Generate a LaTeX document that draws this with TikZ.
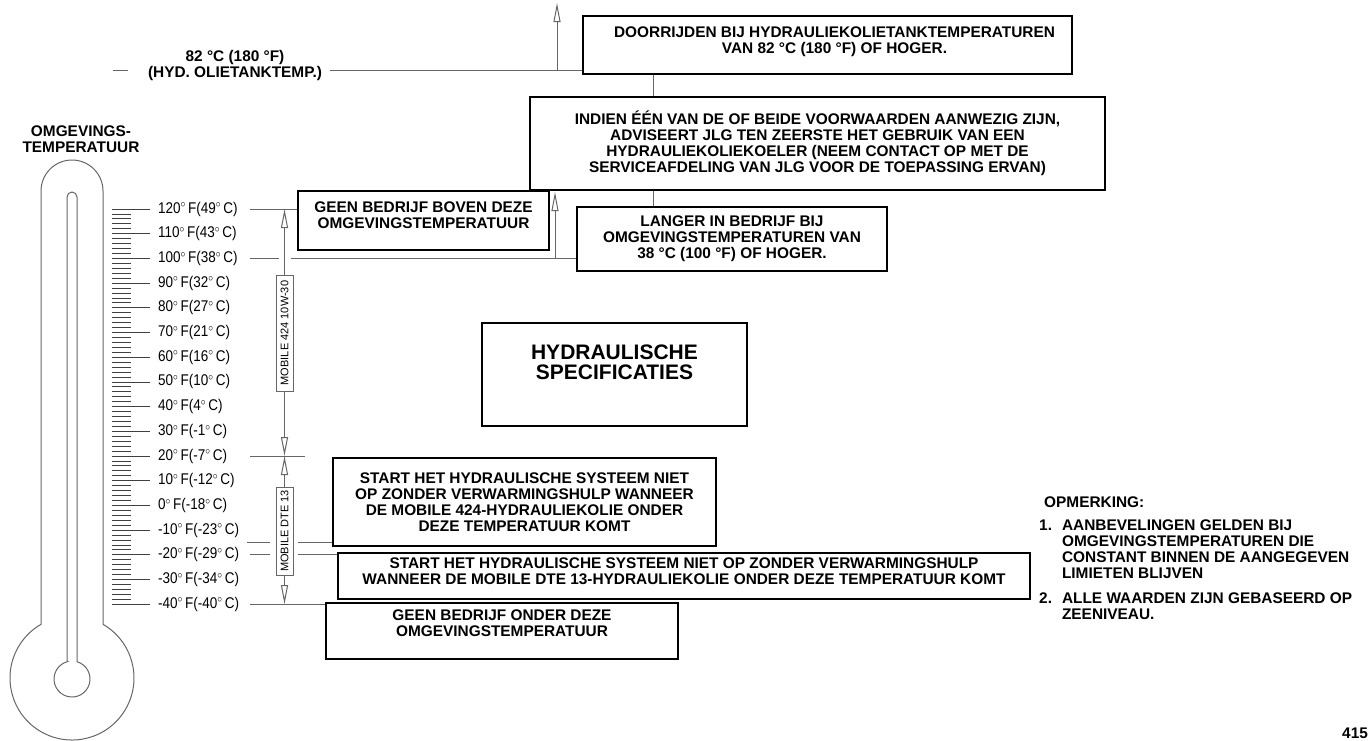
\documentclass[tikz,border=0pt]{standalone}
\usepackage{fontspec}
\setmainfont{Liberation Sans}
\usetikzlibrary{arrows.meta, calc, positioning}

\tikzset{
  note/.style={
    rectangle,
    draw=black, line width=2.3pt,
    align=center,
    inner sep=0pt,
    font=\fontsize{15.4}{16}\selectfont\bfseries
  },
  lift/.style={text depth=#1},
  caption/.style={
    align=center,
    inner sep=0pt,
    font=\fontsize{15.4}{16}\selectfont\bfseries
  },
  leader/.style={
    draw=black!60,
    line width=1pt
  },
  arrow/.style={
    leader,
    -{Triangle[open, length=19pt, width=7pt]}
  },
  oil/.style={
    rectangle,
    draw=black!60, line width=1pt,
    rotate=90,
    minimum height=17pt,
    inner sep=0pt,
    font=\fontsize{11}{11}\selectfont
  },
  reading/.style={
    anchor=west,
    inner sep=0pt,
    xscale=0.87,
    font=\fontsize{15.5}{15.5}\selectfont
  },
  scaletick/.style={
    draw=black!75,
    line width=0.8pt
  }
}

\begin{document}
\begin{tikzpicture}[x=1pt, y=-1pt]
\useasboundingbox (0,0) rectangle (1370,740);

% thermometer
\draw[leader] (41,624.3) -- (41,191) arc[start angle=180, end angle=360, radius=31]
  -- (103,624.3) arc[start angle=-60, end angle=240, radius=62] -- cycle;
\draw[leader] (67,661.7) -- (67,197) arc[start angle=180, end angle=360, radius=5]
  -- (77,661.7) arc[start angle=-73.9, end angle=253.9, radius=18] -- cycle;

% scale
\foreach \k in {1,...,79}{
  \pgfmathsetmacro{\yy}{209+4.94*\k}
  \pgfmathtruncatemacro{\r}{mod(\k,5)}
  \ifnum\r>0
    \draw[scaletick] (112,\yy) -- (131,\yy);
  \fi
}
\foreach \f/\c [count=\i from 0] in {120/49, 110/43, 100/38, 90/32, 80/27, 70/21, 60/16, 50/10, 40/4, 30/-1, 20/-7, 10/-12, 0/-18, -10/-23, -20/-29, -30/-34, -40/-40}{
  \pgfmathsetmacro{\yy}{209+24.7*\i}
  \draw[scaletick] (112,\yy) -- (150,\yy);
  \node[reading] (s\i) at (158,\yy) {\f$^\circ$\,F(\c$^\circ$\,C)};
  \coordinate (f\i) at (250,\yy);
}

% nodes
\node[caption] (ambient) at (81,139) {OMGEVINGS-\\TEMPERATUUR};
\node[caption] (hotlbl) at (235,65.5) {82 °C (180 °F)\\(HYD. OLIETANKTEMP.)};

\node[note, minimum width=489pt, minimum height=58pt, lift=9pt] (hot) at (827.5,45)
  {\hspace*{14pt}DOORRIJDEN BIJ HYDRAULIEKOLIETANKTEMPERATUREN\\\hspace*{14pt}VAN 82 °C (180 °F) OF HOGER.};

\node[note, minimum width=575pt, minimum height=93pt] (advice) at (817.5,143.5)
  {INDIEN ÉÉN VAN DE OF BEIDE VOORWAARDEN AANWEZIG ZIJN,\\
   ADVISEERT JLG TEN ZEERSTE HET GEBRUIK VAN EEN\\
   HYDRAULIEKOLIEKOELER (NEEM CONTACT OP MET DE\\
   SERVICEAFDELING VAN JLG VOOR DE TOEPASSING ERVAN)};

\node[note, minimum width=310pt, minimum height=64pt] (langer) at (732,239)
  {LANGER IN BEDRIJF BIJ\\OMGEVINGSTEMPERATUREN VAN\\38 °C (100 °F) OF HOGER.};

\node[note, minimum width=251pt, minimum height=59pt, lift=11pt] (maxbox) at (423.5,220.5)
  {GEEN BEDRIJF BOVEN DEZE\\OMGEVINGSTEMPERATUUR};

\node[note, minimum width=265pt, minimum height=103pt, lift=24pt,
      font=\fontsize{21}{20}\selectfont\bfseries] (spec) at (614.5,374.5)
  {HYDRAULISCHE\\SPECIFICATIES};

\node[note, minimum width=383pt, minimum height=88pt] (cold424) at (524.5,502)
  {START HET HYDRAULISCHE SYSTEEM NIET\\OP ZONDER VERWARMINGSHULP WANNEER\\
   DE MOBILE 424-HYDRAULIEKOLIE ONDER\\DEZE TEMPERATUUR KOMT};

\node[note, minimum width=692pt, minimum height=46pt, lift=11pt,
      below=5pt of cold424.south west, anchor=north west, xshift=5pt] (colddte)
  {START HET HYDRAULISCHE SYSTEEM NIET OP ZONDER VERWARMINGSHULP\\
   WANNEER DE MOBILE DTE 13-HYDRAULIEKOLIE ONDER DEZE TEMPERATUUR KOMT};

\node[note, minimum width=352pt, minimum height=56pt, lift=16pt] (minbox) at (502,631)
  {GEEN BEDRIJF ONDER DEZE\\OMGEVINGSTEMPERATUUR};

\node[oil, minimum width=116pt] (m424) at (284.5,333) {MOBILE 424 10W-30};
\node[oil, minimum width=88pt] (dte) at (284.5,531) {MOBILE DTE 13};

\node[caption, anchor=west] (remark) at (1044,502) {OPMERKING:};
\node[caption, anchor=north west, align=left] (notes) at (1039,519)
  {\begin{tabular}{@{}l@{\hspace{10pt}}l@{}}
   1. & AANBEVELINGEN GELDEN BIJ\\
      & OMGEVINGSTEMPERATUREN DIE\\
      & CONSTANT BINNEN DE AANGEGEVEN\\
      & LIMIETEN BLIJVEN\\[9pt]
   2. & ALLE WAARDEN ZIJN GEBASEERD OP\\
      & ZEENIVEAU.
   \end{tabular}};

\node[caption, anchor=west] (pagenr) at (1342,733) {415};

% edges
\coordinate (hotdash) at (113,70);
\coordinate (hotline) at (330,70);
\coordinate (hottop) at (557,3);
\coordinate (link) at (653.5,0);
\coordinate (ambtop) at (555,192);
\coordinate (lo424) at (247,542.5);
\coordinate (lodte) at (250,554.8);

%% hydraulic oil tank
\draw[leader] (hotdash) -- ++(15,0);
\draw[leader] (hotline) -- (hot.west |- hotline);
\draw[arrow] (hotline -| hottop) -- (hottop);
\draw[leader] (hot.south -| link) -- (advice.north -| link);
\draw[leader] (advice.south -| link) -- (langer.north -| link);

%% ambient limits
\draw[leader] (f0) -- (maxbox.west |- f0);
\draw[leader] (f2) -- ($(f2 -| m424)+(-6,0)$);
\draw[leader] ($(f2 -| m424)+(6,0)$) -- (langer.west |- f2);
\draw[arrow] (f2 -| ambtop) -- (ambtop);
\draw[leader] (f10) -- ++(55,0);
\draw[leader] (lo424) -- ++(23,0);
\draw[leader] ($(lo424 -| dte)+(13.5,0)$) -- (cold424.west |- lo424);
\draw[leader] (lodte) -- ++(20,0);
\draw[leader] ($(lodte -| dte)+(13.5,0)$) -- (colddte.west |- lodte);
\draw[leader] (f16) -- (minbox.west |- f16);

%% oil ranges
\draw[arrow] (m424.east) -- (f0 -| m424);
\draw[arrow] (m424.west) -- (f10 -| m424);
\draw[arrow] (dte.east) -- (f10 -| dte);
\draw[arrow] (dte.west) -- (f16 -| dte);
\end{tikzpicture}
\end{document}
